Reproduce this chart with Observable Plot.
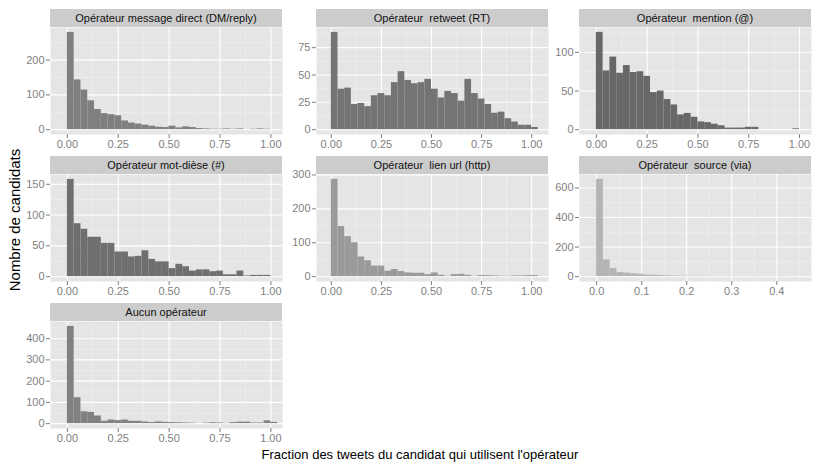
<!DOCTYPE html>
<html><head><meta charset="utf-8">
<script src="https://cdn.jsdelivr.net/npm/d3@7"></script>
<script src="https://cdn.jsdelivr.net/npm/@observablehq/plot@0.6"></script>
<style>
body{margin:0;background:#fff;}
#chart{position:relative;width:813px;height:466px;font-family:"Liberation Sans",Arial,Helvetica,sans-serif;overflow:hidden;}
.strip{position:absolute;background:#cccccc;text-align:center;font-size:11px;color:#111;white-space:pre;}
.pl{position:absolute;}
.xtitle{position:absolute;left:0;width:840px;top:447px;text-align:center;font-size:13px;color:#000;}
.ytitle{position:absolute;left:14px;top:220px;transform:translate(-50%,-50%) rotate(-90deg);font-size:15px;color:#000;white-space:nowrap;}
</style></head><body><div id="chart"></div>
<script>
// Panel titles (facets)
const panelTitles = [
  "Opérateur message direct (DM/reply)",
  "Opérateur  retweet (RT)",
  "Opérateur  mention (@)",
  "Opérateur mot-dièse (#)",
  "Opérateur  lien url (http)",
  "Opérateur  source (via)",
  "Aucun opérateur"
];
// Histogram counts per bin
const dmCounts = [280,143,114,83,58,46,43,40,25,19,16,13,10,7,6,10,5,8,6,3,2,1,1,2,1,2,0,1,2,1];
const rtCounts = [89,37,38,23,24,21,31,33,31,43,53,45,42,43,46,37,29,35,33,26,46,33,28,23,15,16,10,7,4,4,2];
const mentionCounts = [126,76,94,73,83,74,75,69,48,50,39,32,19,21,16,10,9,7,5,2,2,2,3,3,0,0,0,0,0,1];
const hashCounts = [158,86,77,64,64,54,54,40,40,32,33,42,28,24,24,13,20,16,9,11,11,8,9,3,3,9,1,2,2,2];
const urlCounts = [287,148,118,100,58,47,31,31,16,21,15,11,10,10,6,11,4,1,6,7,4,1,3,3,2,1,1,2,2,3,3];
const sourceCounts = [658,113,56,29,24,20,16,11,9,7,5,4,3,3,2,2,2,1,1,1,1,1,1,1,1,1,1,1,1,1];
const noneCounts = [458,122,56,53,36,11,17,14,17,11,11,8,5,8,6,5,4,3,2,0,2,4,3,1,5,7,7,3,3,13,6];
// Bin widths
const binWidthFraction = 1/30;
const binWidthSource = 0.015;
// Tick values
const xTicksFraction = [0, 0.25, 0.5, 0.75, 1];
const xTicksSource = [0, 0.1, 0.2, 0.3, 0.4];
const yTicksDM = [0, 100, 200];
const yTicksRT = [0, 25, 50, 75];
const yTicksMention = [0, 50, 100];
const yTicksHash = [0, 50, 100, 150];
const yTicksUrl = [0, 100, 200, 300];
const yTicksSource = [0, 200, 400, 600];
const yTicksNone = [0, 100, 200, 300, 400];
// Fills (grey levels per panel)
const fills = ["#7f7f7f", "#747474", "#686868", "#6f6f6f", "#9a9a9a", "#b4b4b4", "#818181"];

const specs = [
  {counts: dmCounts, bw: binWidthFraction, xd: [-0.083, 1.057], xt: xTicksFraction, fmt: d3.format(".2f"), yt: yTicksDM, col: 0, row: 0},
  {counts: rtCounts, bw: binWidthFraction, xd: [-0.074, 1.084], xt: xTicksFraction, fmt: d3.format(".2f"), yt: yTicksRT, col: 1, row: 0},
  {counts: mentionCounts, bw: binWidthFraction, xd: [-0.083, 1.059], xt: xTicksFraction, fmt: d3.format(".2f"), yt: yTicksMention, col: 2, row: 0},
  {counts: hashCounts, bw: binWidthFraction, xd: [-0.083, 1.057], xt: xTicksFraction, fmt: d3.format(".2f"), yt: yTicksHash, col: 0, row: 1},
  {counts: urlCounts, bw: binWidthFraction, xd: [-0.074, 1.084], xt: xTicksFraction, fmt: d3.format(".2f"), yt: yTicksUrl, col: 1, row: 1},
  {counts: sourceCounts, bw: binWidthSource, xd: [-0.038, 0.477], xt: xTicksSource, fmt: d3.format(".1f"), yt: yTicksSource, col: 2, row: 1},
  {counts: noneCounts, bw: binWidthFraction, xd: [-0.083, 1.057], xt: xTicksFraction, fmt: d3.format(".2f"), yt: yTicksNone, col: 0, row: 2}
];

const colLeft = [50, 316, 579];
const rowTop = [9, 156, 303];
const panelW = 232, panelH = 107, stripH = 18;
const mL = 40, mB = 24;
const chart = document.getElementById("chart");

function mids(ticks, lo, hi) {
  const step = ticks[1] - ticks[0];
  const out = [];
  for (let v = ticks[0] - step / 2; v < hi; v += step) if (v > lo) out.push(v);
  return out;
}

specs.forEach((s, i) => {
  const left = colLeft[s.col], top = rowTop[s.row];
  const strip = document.createElement("div");
  strip.className = "strip";
  strip.style.left = left + "px";
  strip.style.top = top + "px";
  strip.style.width = panelW + "px";
  strip.style.height = stripH + "px";
  strip.style.lineHeight = stripH + "px";
  strip.textContent = panelTitles[i];
  chart.appendChild(strip);

  const M = d3.max(s.counts);
  const yd = [-0.05 * M, 1.05 * M];
  const data = s.counts.map((n, k) => ({x1: k * s.bw, x2: (k + 1) * s.bw, n}));
  const plot = Plot.plot({
    width: mL + panelW, height: panelH + mB,
    marginLeft: mL, marginRight: 0, marginTop: 0, marginBottom: mB,
    x: {domain: s.xd}, y: {domain: yd},
    style: {fontFamily: '"Liberation Sans",Arial,sans-serif', fontSize: "11px", color: "#7f7f7f", background: "transparent", overflow: "visible"},
    marks: [
      Plot.frame({fill: "#e5e5e5", stroke: "none"}),
      Plot.gridX(mids(s.xt, s.xd[0], s.xd[1]), {stroke: "#f2f2f2", strokeOpacity: 1, strokeWidth: 0.6}),
      Plot.gridY(mids(s.yt, yd[0], yd[1]), {stroke: "#f2f2f2", strokeOpacity: 1, strokeWidth: 0.6}),
      Plot.gridX(s.xt, {stroke: "#ffffff", strokeOpacity: 1, strokeWidth: 1.1}),
      Plot.gridY(s.yt, {stroke: "#ffffff", strokeOpacity: 1, strokeWidth: 1.1}),
      Plot.rectY(data, {x1: "x1", x2: "x2", y1: 0, y2: "n", fill: fills[i]}),
      Plot.axisX(s.xt, {tickFormat: s.fmt, tickSize: 4, tickPadding: 2, label: null, stroke: "#7f7f7f", fill: "#7f7f7f"}),
      Plot.axisY(s.yt, {tickSize: 4, tickPadding: 2, label: null, stroke: "#7f7f7f", fill: "#7f7f7f"})
    ]
  });
  plot.classList.add("pl");
  plot.style.left = (left - mL) + "px";
  plot.style.top = (top + stripH) + "px";
  chart.appendChild(plot);
});

const xt = document.createElement("div");
xt.className = "xtitle";
xt.textContent = "Fraction des tweets du candidat qui utilisent l'opérateur";
chart.appendChild(xt);
const yt = document.createElement("div");
yt.className = "ytitle";
yt.textContent = "Nombre de candidats";
chart.appendChild(yt);
</script></body></html>
